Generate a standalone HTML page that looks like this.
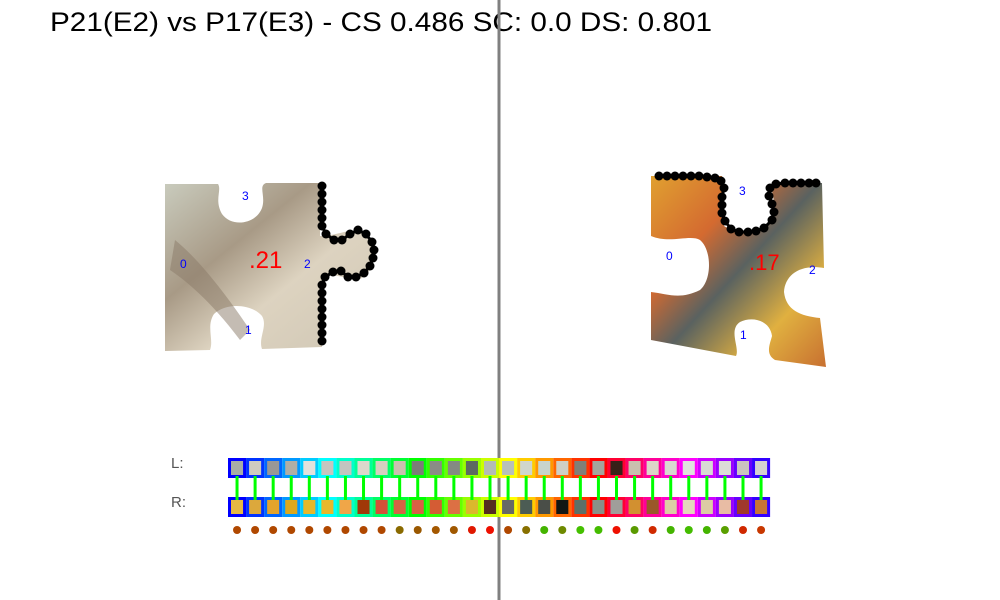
<!DOCTYPE html>
<html><head><meta charset="utf-8"><style>
html,body{margin:0;padding:0;background:#fff;width:1000px;height:600px;overflow:hidden}
svg{display:block}
</style></head><body>
<svg id="c" width="1000" height="600" viewBox="0 0 1000 600" xmlns="http://www.w3.org/2000/svg">
<defs>
<linearGradient id="gL" x1="0" y1="0" x2="1" y2="1">
<stop offset="0" stop-color="#c9cbbd"/><stop offset="0.35" stop-color="#a89a86"/><stop offset="0.6" stop-color="#ddd3c0"/><stop offset="1" stop-color="#cfc6b4"/>
</linearGradient>
<linearGradient id="gR" x1="0" y1="0" x2="1" y2="1">
<stop offset="0" stop-color="#e0a030"/><stop offset="0.3" stop-color="#d46a30"/><stop offset="0.5" stop-color="#5a6260"/><stop offset="0.75" stop-color="#e0b040"/><stop offset="1" stop-color="#c87030"/>
</linearGradient>
</defs>
<rect x="0" y="0" width="1000" height="600" fill="#fff"/>
<text x="50" y="31" font-family="Liberation Sans, sans-serif" font-size="27" fill="#000" textLength="662" lengthAdjust="spacingAndGlyphs">P21(E2) vs P17(E3) - CS 0.486 SC: 0.0 DS: 0.801</text>

<g>
<path d="M165,184 L218,184 C222,190 214,200 222,214 C232,228 256,224 262,208 C266,196 258,186 266,183 L320,183 L320,236 C340,236 350,226 366,234 C378,246 376,270 362,278 C350,284 338,270 322,278 L322,347 L262,349 C258,338 268,326 262,316 C252,304 226,302 214,314 C206,326 214,340 210,350 L165,351 Z" fill="url(#gL)"/>
<path d="M175,240 C200,260 230,300 250,330 L240,340 C210,300 185,280 170,270 Z" fill="#8a7a68" opacity="0.5"/>
</g>
<g>
<path d="M651,176 L722,176 L724,226 C740,236 762,234 774,220 C778,206 770,192 772,184 L822,183 L824,268 C800,264 785,275 784,292 C786,310 800,316 820,318 L826,367 L775,360 C765,354 770,344 772,336 C770,320 752,316 740,322 C728,330 740,348 736,356 L651,340 L651,292 C668,294 680,300 700,290 C712,280 712,250 700,240 C690,234 670,244 651,236 Z" fill="url(#gR)"/>
</g>

<line x1="499" y1="0" x2="499" y2="600" stroke="#808080" stroke-width="3"/>

<g id="contours"></g>

<g font-family="Liberation Sans, sans-serif">
<text x="180" y="268" font-size="12" fill="#0000ff">0</text>
<text x="245" y="334" font-size="12" fill="#0000ff">1</text>
<text x="304" y="268" font-size="12" fill="#0000ff">2</text>
<text x="242" y="200" font-size="12" fill="#0000ff">3</text>
<text x="249" y="268" font-size="24" fill="#ff0000">.21</text>
<text x="666" y="260" font-size="12" fill="#0000ff">0</text>
<text x="740" y="339" font-size="12" fill="#0000ff">1</text>
<text x="809" y="274" font-size="12" fill="#0000ff">2</text>
<text x="739" y="195" font-size="12" fill="#0000ff">3</text>
<text x="749" y="270" font-size="22" fill="#ff0000">.17</text>
</g>

<g font-family="Liberation Sans, sans-serif" font-size="15" fill="#555">
<text x="171" y="468">L:</text>
<text x="171" y="507">R:</text>
</g>
<g id="strip"></g>
</svg>
<script>
const leftColors=["#a8aca6","#cfcbc0","#999896","#b0aea5","#e2e2dc","#c6c6c0","#c4c4c0","#dcd8cc","#d6cfc0","#cbc0b0","#7c7c78","#8a8c86","#848a82","#5c6862","#b4bcb6","#b8c0ba","#d0d6cc","#c8d4cc","#cfcfc4","#808078","#a4a49c","#382018","#cabfae","#dcd6c8","#d8d8d0","#e0e2de","#d8dad4","#dcdcd8","#cac4c0","#d4d0d0"];
const rightColors=["#e6b844","#dca83c","#e4a42c","#dca81c","#e6b82a","#e8b82c","#f0a648","#a03808","#d45038","#d46444","#d86044","#d45c34","#dc7044","#dcb82c","#542c20","#686a66","#4c5c54","#4a4e48","#121614","#5c7068","#889088","#a09e9a","#d29030","#9a5828","#dccca4","#e4d6bc","#dccca4","#e8bca4","#a0382c","#c87434"];
const dotColors=["#b04800","#b04800","#b04800","#b04800","#b04800","#b04800","#b04800","#b04800","#b04800","#8a6a00","#9a5800","#a45800","#a05800","#e01800","#ee1000","#b04800","#887000","#44b400","#6e8a00","#44c000","#44bc00","#ee1000","#5a9a00","#d02a00","#44b400","#44bc00","#44b400","#5aa000","#d02800","#c83800"];
const leftContour=[[322,186],[322,194],[322,202],[322,210],[322,218],[322,226],[326,234],[334,240],[342,240],[350,234],[358,230],[366,234],[372,242],[374,250],[373,258],[370,266],[364,273],[356,277],[348,277],[341,271],[333,272],[325,277],[322,285],[322,293],[322,301],[322,309],[322,317],[322,325],[322,333],[322,341]];
const rightContour=[[659,176],[667,176],[675,176],[683,176],[691,176],[699,176],[707,177],[715,178],[721,181],[724,188],[722,197],[722,205],[722,213],[725,221],[731,229],[739,232],[748,232],[756,231],[764,228],[772,220],[774,212],[772,204],[769,196],[770,188],[776,184],[785,183],[793,183],[801,183],[809,183],[816,183]];
const NS="http://www.w3.org/2000/svg";
const c=document.getElementById('contours');
function contour(pts){
  const pl=document.createElementNS(NS,'polyline');
  pl.setAttribute('points',pts.map(p=>p.join(',')).join(' '));
  pl.setAttribute('fill','none');pl.setAttribute('stroke','#000');pl.setAttribute('stroke-width','3');
  
  
  c.appendChild(pl);
  pts.forEach((p,i)=>{
    const d=document.createElementNS(NS,'circle');
    d.setAttribute('cx',p[0]);d.setAttribute('cy',p[1]);d.setAttribute('r','4.5');d.setAttribute('fill','#000');
    
    
    c.appendChild(d);
  });
}
contour(leftContour);contour(rightContour);
const s=document.getElementById('strip');
const x0=228,w=18.07,yT=458,yB=497,h=20;
function hue(i){return 'hsl('+((240-i*12+360)%360)+',100%,50%)';}
for(let i=0;i<leftColors.length;i++){
  const x=x0+i*w;
  const a=document.createElementNS(NS,'rect');
  a.setAttribute('x',x+1.5);a.setAttribute('y',yT+1.5);a.setAttribute('width',w-3);a.setAttribute('height',h-3);
  a.setAttribute('fill',leftColors[i]);a.setAttribute('stroke',hue(i));a.setAttribute('stroke-width','3');
  
  
  s.appendChild(a);
  const b=document.createElementNS(NS,'rect');
  b.setAttribute('x',x+1.5);b.setAttribute('y',yB+1.5);b.setAttribute('width',w-3);b.setAttribute('height',h-3);
  b.setAttribute('fill',rightColors[i]);b.setAttribute('stroke',hue(i));b.setAttribute('stroke-width','3');
  
  
  s.appendChild(b);
  const l=document.createElementNS(NS,'line');
  l.setAttribute('x1',x+w/2);l.setAttribute('x2',x+w/2);l.setAttribute('y1',yT+h-2);l.setAttribute('y2',yB+3);
  l.setAttribute('stroke','#00ff00');l.setAttribute('stroke-width','3');
  
  
  s.appendChild(l);
  const d=document.createElementNS(NS,'circle');
  d.setAttribute('cx',x+w/2);d.setAttribute('cy',530);d.setAttribute('r','4');d.setAttribute('fill',dotColors[i]);
  
  
  s.appendChild(d);
}
</script>
</body></html>
